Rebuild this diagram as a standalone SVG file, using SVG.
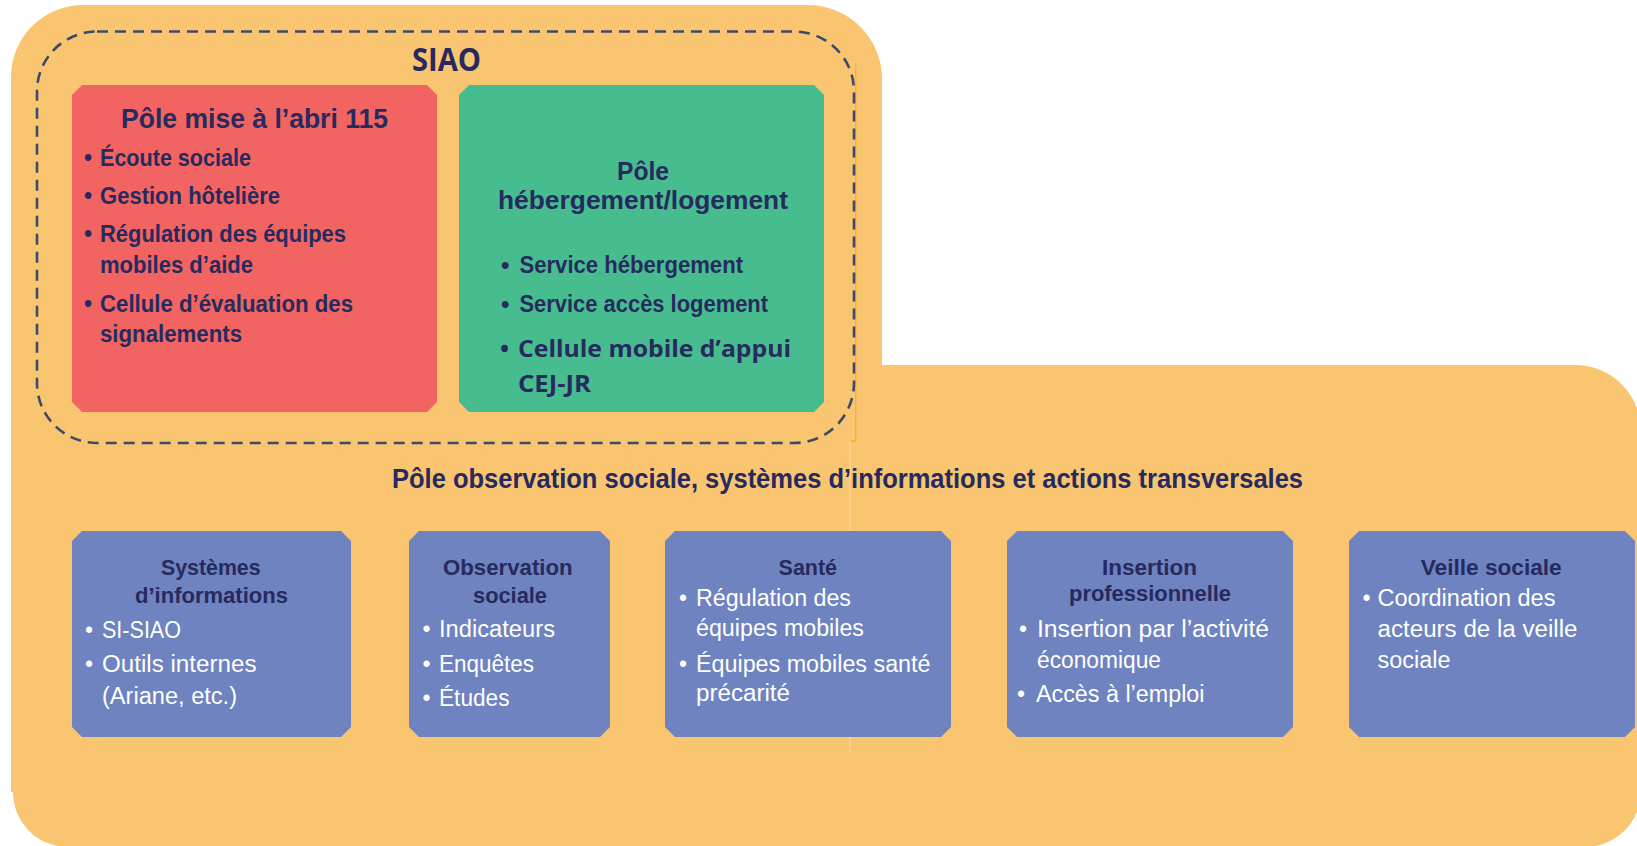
<svg xmlns="http://www.w3.org/2000/svg" width="1637" height="846" viewBox="0 0 1637 846">
<style>
.bg{fill:#f9c570}
.dash{fill:none;stroke:#3e4a69;stroke-width:2.6;stroke-dasharray:11 7}
.red{fill:#f16461}
.green{fill:#47bd8f}
.blue{fill:#6e83bf}
text{font-family:"Liberation Sans",Arial,sans-serif}
.nb{fill:#262a5e;font-weight:700}
.os{font-family:"Open Sans","Liberation Sans",Arial,sans-serif;fill:#262a5e;font-weight:700}
.w{fill:#ffffff;font-weight:400}
.f27{font-size:27px}
.f23{font-size:23px}
.f22{font-size:22px}
.f24{font-size:24px}
</style>
<rect x="0" y="0" width="1637" height="846" fill="#ffffff"/>
<g id="background">
<path class="bg" d="M11,77 A72,72 0 0 1 83,5 H808 A74,74 0 0 1 882,79 V365 H1575 A66,66 0 0 1 1641,431 V791 A56,56 0 0 1 1585,847 H68 A55,55 0 0 1 13,792 H11 Z"/>
<path d="M855.7,63 V441 H850" fill="none" stroke="#f5b136" stroke-width="1.3"/>
<line x1="850" y1="441" x2="850" y2="752" stroke="#fcdba3" stroke-width="1"/>
</g>
<g id="siao">
<rect class="dash" x="37" y="31.5" width="817" height="411.5" rx="60" ry="60"/>
<text class="os" x="412" y="71" font-size="32" textLength="69" lengthAdjust="spacingAndGlyphs">SIAO</text>
</g>
<g id="pole-mise-abri">
<path class="red" d="M82,85H427L437,95V402L427,412H82L72,402V95Z"/>
<text class="nb f27" x="121" y="128" textLength="267" lengthAdjust="spacingAndGlyphs">Pôle mise à l’abri 115</text>
<g class="nb f23">
<text x="84" y="166">•</text><text x="100" y="166" textLength="151" lengthAdjust="spacingAndGlyphs">Écoute sociale</text>
<text x="84" y="204">•</text><text x="100" y="204" textLength="180" lengthAdjust="spacingAndGlyphs">Gestion hôtelière</text>
<text x="84" y="242">•</text><text x="100" y="242" textLength="246" lengthAdjust="spacingAndGlyphs">Régulation des équipes</text>
<text x="100" y="273" textLength="153" lengthAdjust="spacingAndGlyphs">mobiles d’aide</text>
<text x="84" y="312">•</text><text x="100" y="312" textLength="253" lengthAdjust="spacingAndGlyphs">Cellule d’évaluation des</text>
<text x="100" y="342" textLength="142" lengthAdjust="spacingAndGlyphs">signalements</text>
</g>
</g>
<g id="pole-hebergement">
<path class="green" d="M469,85H814L824,95V402L814,412H469L459,402V95Z"/>
<text class="nb" font-size="26" x="617" y="180" textLength="52" lengthAdjust="spacingAndGlyphs">Pôle</text>
<text class="nb" font-size="26" x="498" y="209" textLength="290" lengthAdjust="spacingAndGlyphs">hébergement/logement</text>
<g class="nb f24">
<text x="501" y="273">•</text><text x="519.5" y="273" textLength="223.5" lengthAdjust="spacingAndGlyphs">Service hébergement</text>
<text x="501" y="312">•</text><text x="519.5" y="312" textLength="248.5" lengthAdjust="spacingAndGlyphs">Service accès logement</text>
</g>
<text class="os" font-size="24" x="500" y="357">•</text>
<text class="os" font-size="24" x="518" y="357" textLength="273" lengthAdjust="spacingAndGlyphs">Cellule mobile d’appui</text>
<text class="os" font-size="23.5" x="518" y="392" textLength="73" lengthAdjust="spacingAndGlyphs">CEJ-JR</text>
</g>
<g id="pole-observation-title">
<text class="nb f27" x="392" y="488" textLength="911" lengthAdjust="spacingAndGlyphs">Pôle observation sociale, systèmes d’informations et actions transversales</text>
</g>
<g id="systemes-informations">
<path class="blue" d="M82,531H341L351,541V727L341,737H82L72,727V541Z"/>
<text class="nb f22" x="161" y="575" textLength="99.6" lengthAdjust="spacingAndGlyphs">Systèmes</text>
<text class="nb f22" x="135" y="603" textLength="153" lengthAdjust="spacingAndGlyphs">d’informations</text>
<g class="w f23">
<text x="85" y="638">•</text><text x="102" y="638" textLength="79" lengthAdjust="spacingAndGlyphs">SI-SIAO</text>
<text x="85" y="672">•</text><text x="102" y="672" textLength="154.5" lengthAdjust="spacingAndGlyphs">Outils internes</text>
<text x="102" y="704" textLength="135" lengthAdjust="spacingAndGlyphs">(Ariane, etc.)</text>
</g>
</g>
<g id="observation-sociale">
<path class="blue" d="M419,531H600L610,541V727L600,737H419L409,727V541Z"/>
<text class="nb f22" x="443" y="575" textLength="129.6" lengthAdjust="spacingAndGlyphs">Observation</text>
<text class="nb f22" x="473" y="603" textLength="74" lengthAdjust="spacingAndGlyphs">sociale</text>
<g class="w f23">
<text x="422.6" y="637">•</text><text x="439" y="637" textLength="116" lengthAdjust="spacingAndGlyphs">Indicateurs</text>
<text x="422.6" y="672">•</text><text x="439" y="672" textLength="95" lengthAdjust="spacingAndGlyphs">Enquêtes</text>
<text x="422.6" y="706">•</text><text x="439" y="706" textLength="70.5" lengthAdjust="spacingAndGlyphs">Études</text>
</g>
</g>
<g id="sante">
<path class="blue" d="M675,531H941L951,541V727L941,737H675L665,727V541Z"/>
<text class="nb f22" x="778.6" y="575" textLength="58.4" lengthAdjust="spacingAndGlyphs">Santé</text>
<g class="w f23">
<text x="679" y="606">•</text><text x="696" y="606" textLength="155" lengthAdjust="spacingAndGlyphs">Régulation des</text>
<text x="696" y="636" textLength="168" lengthAdjust="spacingAndGlyphs">équipes mobiles</text>
<text x="679" y="672">•</text><text x="696" y="672" textLength="234.5" lengthAdjust="spacingAndGlyphs">Équipes mobiles santé</text>
<text x="696" y="701" textLength="94" lengthAdjust="spacingAndGlyphs">précarité</text>
</g>
</g>
<g id="insertion-professionnelle">
<path class="blue" d="M1017,531H1283L1293,541V727L1283,737H1017L1007,727V541Z"/>
<text class="nb f22" x="1102" y="575" textLength="95" lengthAdjust="spacingAndGlyphs">Insertion</text>
<text class="nb f22" x="1069" y="601" textLength="162" lengthAdjust="spacingAndGlyphs">professionnelle</text>
<g class="w f23">
<text x="1019" y="637">•</text><text x="1037" y="637" textLength="232" lengthAdjust="spacingAndGlyphs">Insertion par l’activité</text>
<text x="1037" y="668" textLength="124" lengthAdjust="spacingAndGlyphs">économique</text>
<text x="1017" y="702">•</text><text x="1036" y="702" textLength="168.5" lengthAdjust="spacingAndGlyphs">Accès à l’emploi</text>
</g>
</g>
<g id="veille-sociale">
<path class="blue" d="M1359,531H1625L1635,541V727L1625,737H1359L1349,727V541Z"/>
<text class="nb f22" x="1420.7" y="575" textLength="141" lengthAdjust="spacingAndGlyphs">Veille sociale</text>
<g class="w f23">
<text x="1362.6" y="606">•</text><text x="1377.5" y="606" textLength="178" lengthAdjust="spacingAndGlyphs">Coordination des</text>
<text x="1377.5" y="637" textLength="200" lengthAdjust="spacingAndGlyphs">acteurs de la veille</text>
<text x="1377.5" y="668" textLength="73" lengthAdjust="spacingAndGlyphs">sociale</text>
</g>
</g>
<g id="connectors"></g>
</svg>
